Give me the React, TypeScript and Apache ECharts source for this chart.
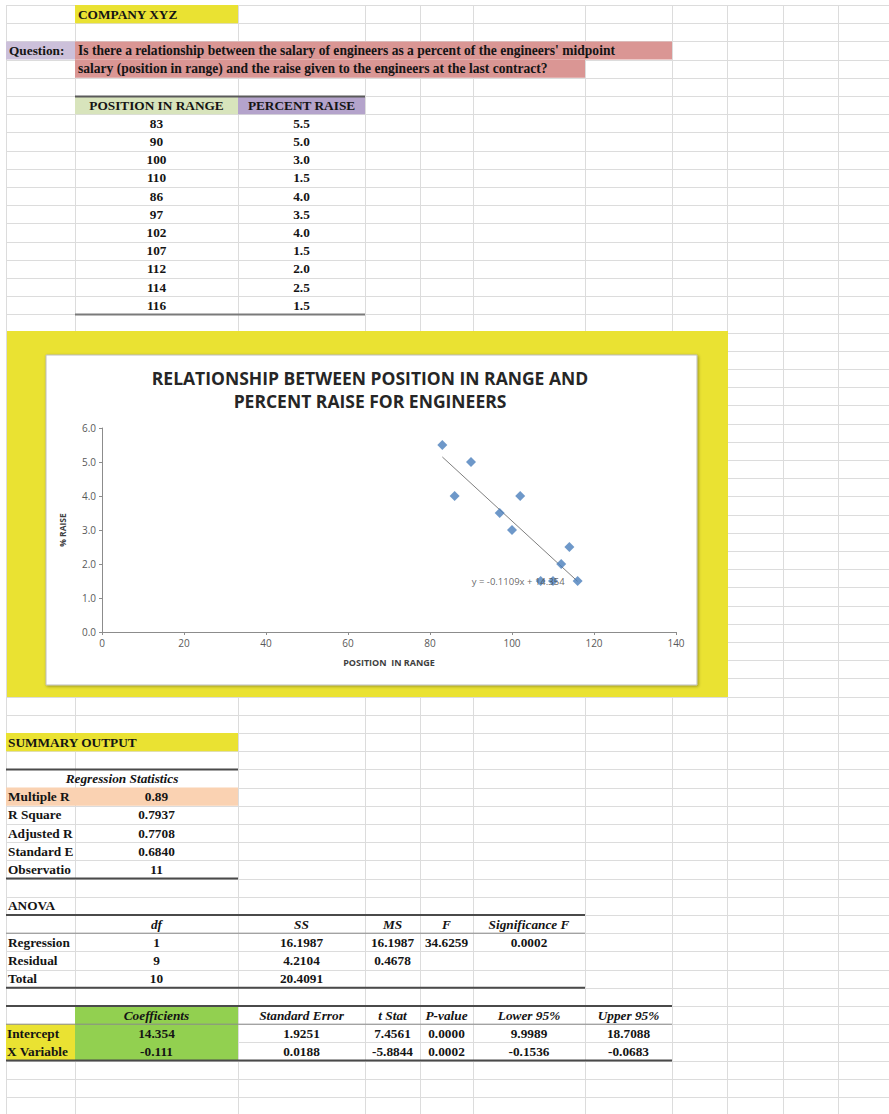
import React, { useEffect, useRef } from "react";
import * as echarts from "echarts";

// ---------- data ----------
const positionInRange = [83, 90, 100, 110, 86, 97, 102, 107, 112, 114, 116];
const percentRaise = [5.5, 5.0, 3.0, 1.5, 4.0, 3.5, 4.0, 1.5, 2.0, 2.5, 1.5];
const trendSlope = -0.1109;
const trendIntercept = 14.354;
const trendLabel = "y = -0.1109x + 14.354";
const trendLabelAt = [101.5, 1.5];

const companyName = "COMPANY XYZ";
const questionLabel = "Question:";
const questionLines = [
  "Is there a relationship between the salary of engineers as a percent of the engineers' midpoint",
  "salary (position in range) and the raise given to the engineers at the last contract?",
];
const tableHeaders = ["POSITION IN RANGE", "PERCENT RAISE"];

const chartTitle = "RELATIONSHIP BETWEEN POSITION IN RANGE AND\nPERCENT RAISE FOR ENGINEERS";
const xAxisName = "POSITION  IN RANGE";
const yAxisName = "% RAISE";

const regStatsTitle = "Regression Statistics";
const regStatLabels = ["Multiple R", "R Square", "Adjusted R Square", "Standard Error", "Observations"];
const regStatValues = ["0.89", "0.7937", "0.7708", "0.6840", "11"];

const anovaHeaders = ["", "df", "SS", "MS", "F", "Significance F"];
const anovaRows = [
  ["Regression", "1", "16.1987", "16.1987", "34.6259", "0.0002"],
  ["Residual", "9", "4.2104", "0.4678", "", ""],
  ["Total", "10", "20.4091", "", "", ""],
];

const coefHeaders = ["", "Coefficients", "Standard Error", "t Stat", "P-value", "Lower 95%", "Upper 95%"];
const coefRows = [
  ["Intercept", "14.354", "1.9251", "7.4561", "0.0000", "9.9989", "18.7088"],
  ["X Variable", "-0.111", "0.0188", "-5.8844", "0.0002", "-0.1536", "-0.0683"],
];

// ---------- sheet geometry ----------
const W = 889;
const H = 1114;
const ROW0 = 5;
const ROW_H = 18.2;
const colX = [6, 75, 238, 365, 420, 473, 585, 672, 727, 783, 838, 894];
const rowTop = (i: number) => ROW0 + ROW_H * i;
const rowMid = (i: number) => rowTop(i) + ROW_H / 2;
const colMid = (c: number) => (colX[c] + colX[c + 1]) / 2;

const YELLOW = "#EAE232";
const PINK = "#DA9694";
const LAVENDER = "#CCC0DA";
const PURPLE = "#B4A3CB";
const LIGHTGREEN = "#D8E4BC";
const PEACH = "#FAD2B2";
const GREEN = "#92D050";
const GRID = "#DCDCDC";
const INK = "#141414";
const SERIF = "Liberation Serif";
const SANS = "Open Sans";
const FS = 13.3;

function buildSheet() {
  const els: any[] = [];
  const rect = (x1: number, y1: number, x2: number, y2: number, fill: string, z = -80, extra: any = {}) =>
    els.push({ type: "rect", z, shape: { x: x1, y: y1, width: x2 - x1, height: y2 - y1 }, style: { fill, ...extra } });
  const hline = (x1: number, x2: number, y: number, stroke: string, lw: number, z = -60) =>
    els.push({ type: "line", z, shape: { x1, y1: y, x2, y2: y }, style: { stroke, lineWidth: lw } });
  const text = (
    x: number,
    y: number,
    t: string,
    o: { align?: string; italic?: boolean; size?: number; width?: number } = {}
  ) =>
    els.push({
      type: "text",
      z: -50,
      x,
      y,
      style: {
        text: t,
        fill: INK,
        fontFamily: SERIF,
        fontSize: o.size || FS,
        fontWeight: "bold",
        fontStyle: o.italic ? "italic" : "normal",
        align: o.align || "center",
        verticalAlign: "middle",
        ...(o.width ? { width: o.width, overflow: "truncate", ellipsis: "" } : {}),
      },
    });

  rect(0, 0, W, H, "#FFFFFF", -100);
  // gridlines
  for (let i = 0; rowTop(i) < H; i++) {
    const y = Math.round(rowTop(i)) + 0.5;
    hline(colX[0], W, y, GRID, 1, -95);
  }
  for (const x of colX) {
    els.push({ type: "line", z: -95, shape: { x1: x + 0.5, y1: ROW0, x2: x + 0.5, y2: H }, style: { stroke: GRID, lineWidth: 1 } });
  }

  // fills
  rect(colX[1], rowTop(0), colX[2], rowTop(1), YELLOW);
  rect(colX[0], rowTop(2), colX[1], rowTop(3), LAVENDER);
  rect(colX[1], rowTop(2), colX[7], rowTop(3), PINK);
  rect(colX[1], rowTop(3), colX[6], rowTop(4), PINK);
  rect(colX[1], rowTop(5), colX[2], rowTop(6), LIGHTGREEN);
  rect(colX[2], rowTop(5), colX[3], rowTop(6), PURPLE);
  // chart frame
  rect(7, 331, 728, 697, YELLOW);
  rect(46, 355, 697, 685, "#FFFFFF", -79, { stroke: "#BDBDBD", lineWidth: 1, shadowBlur: 3, shadowColor: "rgba(0,0,0,0.35)", shadowOffsetX: 1, shadowOffsetY: 1 });
  // summary fills
  rect(colX[0], rowTop(40), colX[2], rowTop(41), YELLOW);
  rect(colX[0], rowTop(43), colX[2], rowTop(44), PEACH);
  rect(colX[1], rowTop(55), colX[2], rowTop(58), GREEN);
  rect(colX[0], rowTop(56), colX[1], rowTop(58), YELLOW);

  // borders
  hline(colX[1], colX[3], rowTop(5) + 0.5, "#5A5A5A", 2);
  hline(colX[1], colX[3], rowTop(17), "#7A7A7A", 2);
  hline(colX[0], colX[2], rowTop(42), "#4A4A4A", 2);
  hline(colX[0], colX[2], rowTop(48), "#4A4A4A", 2);
  hline(colX[0], colX[6], rowTop(50), "#4A4A4A", 2);
  hline(colX[0], colX[6], rowTop(51), "#8A8A8A", 1);
  hline(colX[0], colX[6], rowTop(54), "#4A4A4A", 2);
  hline(colX[0], colX[7], rowTop(55), "#4A4A4A", 2);
  hline(colX[0], colX[7], rowTop(56), "#8A8A8A", 1);
  hline(colX[0], colX[7], rowTop(58), "#4A4A4A", 2);

  const aW = colX[1] - colX[0] - 1;

  // texts
  text(colX[1] + 3, rowMid(0), companyName, { align: "left" });
  text(colX[0] + 3, rowMid(2), questionLabel, { align: "left" });
  questionLines.forEach((q, i) => text(colX[1] + 3, rowMid(2 + i), q, { align: "left", size: 13.55 }));
  text(colMid(1), rowMid(5), tableHeaders[0]);
  text(colMid(2), rowMid(5), tableHeaders[1]);
  positionInRange.forEach((p, i) => {
    text(colMid(1), rowMid(6 + i), String(p));
    text(colMid(2), rowMid(6 + i), percentRaise[i].toFixed(1));
  });

  text(colX[0] + 2, rowMid(40), "SUMMARY OUTPUT", { align: "left" });
  text((colX[0] + colX[2]) / 2, rowMid(42), regStatsTitle, { italic: true });
  regStatLabels.forEach((l, i) => {
    text(colX[0] + 2, rowMid(43 + i), l, { align: "left", width: aW });
    text(colMid(1), rowMid(43 + i), regStatValues[i]);
  });

  text(colX[0] + 2, rowMid(49), "ANOVA", { align: "left" });
  anovaHeaders.forEach((h, c) => {
    if (h) text(colMid(c), rowMid(50), h, { italic: true });
  });
  anovaRows.forEach((r, i) =>
    r.forEach((v, c) => {
      if (!v) return;
      if (c === 0) text(colX[0] + 2, rowMid(51 + i), v, { align: "left", width: aW });
      else text(colMid(c), rowMid(51 + i), v);
    })
  );

  coefHeaders.forEach((h, c) => {
    if (h) text(colMid(c), rowMid(55), h, { italic: true });
  });
  coefRows.forEach((r, i) =>
    r.forEach((v, c) => {
      if (c === 0) text(colX[0] + 1, rowMid(56 + i), v, { align: "left", width: aW });
      else text(colMid(c), rowMid(56 + i), v);
    })
  );
  return els;
}

export default function App() {
  const ref = useRef<HTMLDivElement>(null);
  useEffect(() => {
    if (!ref.current) return;
    const chart = echarts.init(ref.current, undefined, { renderer: "svg" });
    const xs = [Math.min(...positionInRange), Math.max(...positionInRange)];
    const trendData = xs.map((x) => [x, trendIntercept + trendSlope * x]);
    chart.setOption({
      animation: false,
      backgroundColor: "#FFFFFF",
      title: {
        text: chartTitle,
        left: 365,
        top: 361,
        textAlign: "center",
        textStyle: { fontFamily: SANS, fontSize: 17.5, fontWeight: "bold", color: "#262626", lineHeight: 23 },
      },
      grid: { left: 102, top: 428, width: 574, height: 204, containLabel: false },
      xAxis: {
        type: "value",
        min: 0,
        max: 140,
        interval: 20,
        name: xAxisName,
        nameLocation: "middle",
        nameGap: 26,
        nameTextStyle: { fontFamily: SANS, fontSize: 9, fontWeight: "bold", color: "#404040" },
        axisLine: { show: true, onZero: false, lineStyle: { color: "#8C8C8C", width: 1 } },
        axisTick: { show: true, length: 3, lineStyle: { color: "#8C8C8C" } },
        axisLabel: { fontFamily: SANS, fontSize: 10, color: "#595959", margin: 6 },
        splitLine: { show: false },
      },
      yAxis: {
        type: "value",
        min: 0,
        max: 6,
        interval: 1,
        name: yAxisName,
        nameLocation: "middle",
        nameGap: 35,
        nameRotate: 90,
        nameTextStyle: { fontFamily: SANS, fontSize: 8.5, fontWeight: "bold", color: "#404040" },
        axisLine: { show: true, onZero: false, lineStyle: { color: "#8C8C8C", width: 1 } },
        axisTick: { show: true, length: 3, lineStyle: { color: "#8C8C8C" } },
        axisLabel: { fontFamily: SANS, fontSize: 10, color: "#595959", margin: 6, formatter: (v: number) => v.toFixed(1) },
        splitLine: { show: false },
      },
      series: [
        {
          type: "line",
          data: trendData,
          symbol: "none",
          lineStyle: { color: "#7F7F7F", width: 1 },
          z: 2,
        },
        {
          type: "scatter",
          data: positionInRange.map((x, i) => [x, percentRaise[i]]),
          symbol: "diamond",
          symbolSize: 10,
          itemStyle: { color: "#4A7EBB" },
          z: 3,
        },
        {
          type: "scatter",
          data: [trendLabelAt],
          symbolSize: 1,
          itemStyle: { color: "rgba(0,0,0,0)" },
          label: { show: true, position: "inside", formatter: trendLabel, fontFamily: SANS, fontSize: 9.5, color: "#404040" },
          z: 4,
        },
      ],
      graphic: { elements: buildSheet() },
    });
    return () => chart.dispose();
  }, []);
  return <div ref={ref} style={{ position: "absolute", left: 0, top: 0, width: W, height: H }} />;
}
